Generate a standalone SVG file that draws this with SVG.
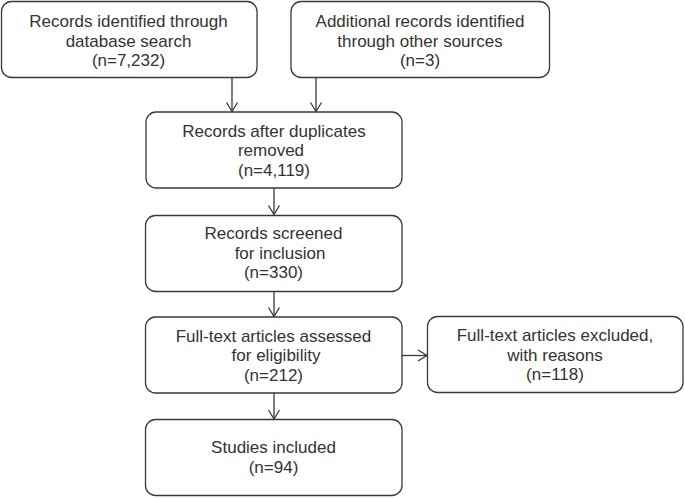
<svg xmlns="http://www.w3.org/2000/svg" width="685" height="498" viewBox="0 0 685 498">
  <defs>
    <style>
      .box { fill: #ffffff; stroke: #3a3a3a; stroke-width: 1.3; }
      .lbl { font-family: "Liberation Sans", Arial, sans-serif; font-size: 17px; fill: #333333; text-anchor: middle; }
      .conn { fill: none; stroke: #3a3a3a; stroke-width: 1.3; }
    </style>
    <marker id="arrow" markerUnits="userSpaceOnUse" markerWidth="14" markerHeight="14" viewBox="-12 -7 14 14" refX="0" refY="0" orient="auto">
      <path d="M-9,-5.5 L0,0 L-9,5.5" fill="none" stroke="#3a3a3a" stroke-width="1.3"/>
    </marker>
  </defs>
  <rect width="685" height="498" fill="#ffffff"/>

  <g id="connectors">
    <line class="conn" x1="232" y1="78" x2="232" y2="111.5" marker-end="url(#arrow)"/>
    <line class="conn" x1="316" y1="78" x2="316" y2="111.5" marker-end="url(#arrow)"/>
    <line class="conn" x1="274" y1="188" x2="274" y2="214.5" marker-end="url(#arrow)"/>
    <line class="conn" x1="274" y1="291.5" x2="274" y2="316.5" marker-end="url(#arrow)"/>
    <line class="conn" x1="274" y1="393" x2="274" y2="419" marker-end="url(#arrow)"/>
    <line class="conn" x1="402" y1="355.5" x2="427" y2="355.5" marker-end="url(#arrow)"/>
  </g>

  <g id="node-identified">
    <rect class="box" x="1.5" y="1.5" width="255.5" height="76" rx="10"/>
    <text class="lbl" x="128.5" y="27">Records identified through</text>
    <text class="lbl" x="128.5" y="46.5">database search</text>
    <text class="lbl" x="128.5" y="66">(n=7,232)</text>
  </g>

  <g id="node-additional">
    <rect class="box" x="291" y="1.5" width="258.5" height="76" rx="10"/>
    <text class="lbl" x="420" y="27">Additional records identified</text>
    <text class="lbl" x="420" y="46.5">through other sources</text>
    <text class="lbl" x="420" y="66">(n=3)</text>
  </g>

  <g id="node-duplicates">
    <rect class="box" x="146" y="112" width="256" height="76" rx="10"/>
    <text class="lbl" x="274" y="136.5">Records after duplicates</text>
    <text class="lbl" x="271" y="156">removed</text>
    <text class="lbl" x="274" y="175.5">(n=4,119)</text>
  </g>

  <g id="node-screened">
    <rect class="box" x="145.5" y="215.5" width="256.5" height="76" rx="10"/>
    <text class="lbl" x="273.5" y="239">Records screened</text>
    <text class="lbl" x="280" y="258.5">for inclusion</text>
    <text class="lbl" x="273.5" y="278">(n=330)</text>
  </g>

  <g id="node-fulltext">
    <rect class="box" x="145.5" y="317" width="256.5" height="76" rx="10"/>
    <text class="lbl" x="273.5" y="341.5">Full-text articles assessed</text>
    <text class="lbl" x="276" y="361">for eligibility</text>
    <text class="lbl" x="273.5" y="380.5">(n=212)</text>
  </g>

  <g id="node-excluded">
    <rect class="box" x="427.5" y="316.5" width="255.5" height="76" rx="10"/>
    <text class="lbl" x="555" y="341">Full-text articles excluded,</text>
    <text class="lbl" x="555" y="360.5">with reasons</text>
    <text class="lbl" x="555" y="380">(n=118)</text>
  </g>

  <g id="node-included">
    <rect class="box" x="145.5" y="419.5" width="256.5" height="76" rx="10"/>
    <text class="lbl" x="273.5" y="453">Studies included</text>
    <text class="lbl" x="273.5" y="473">(n=94)</text>
  </g>
</svg>
